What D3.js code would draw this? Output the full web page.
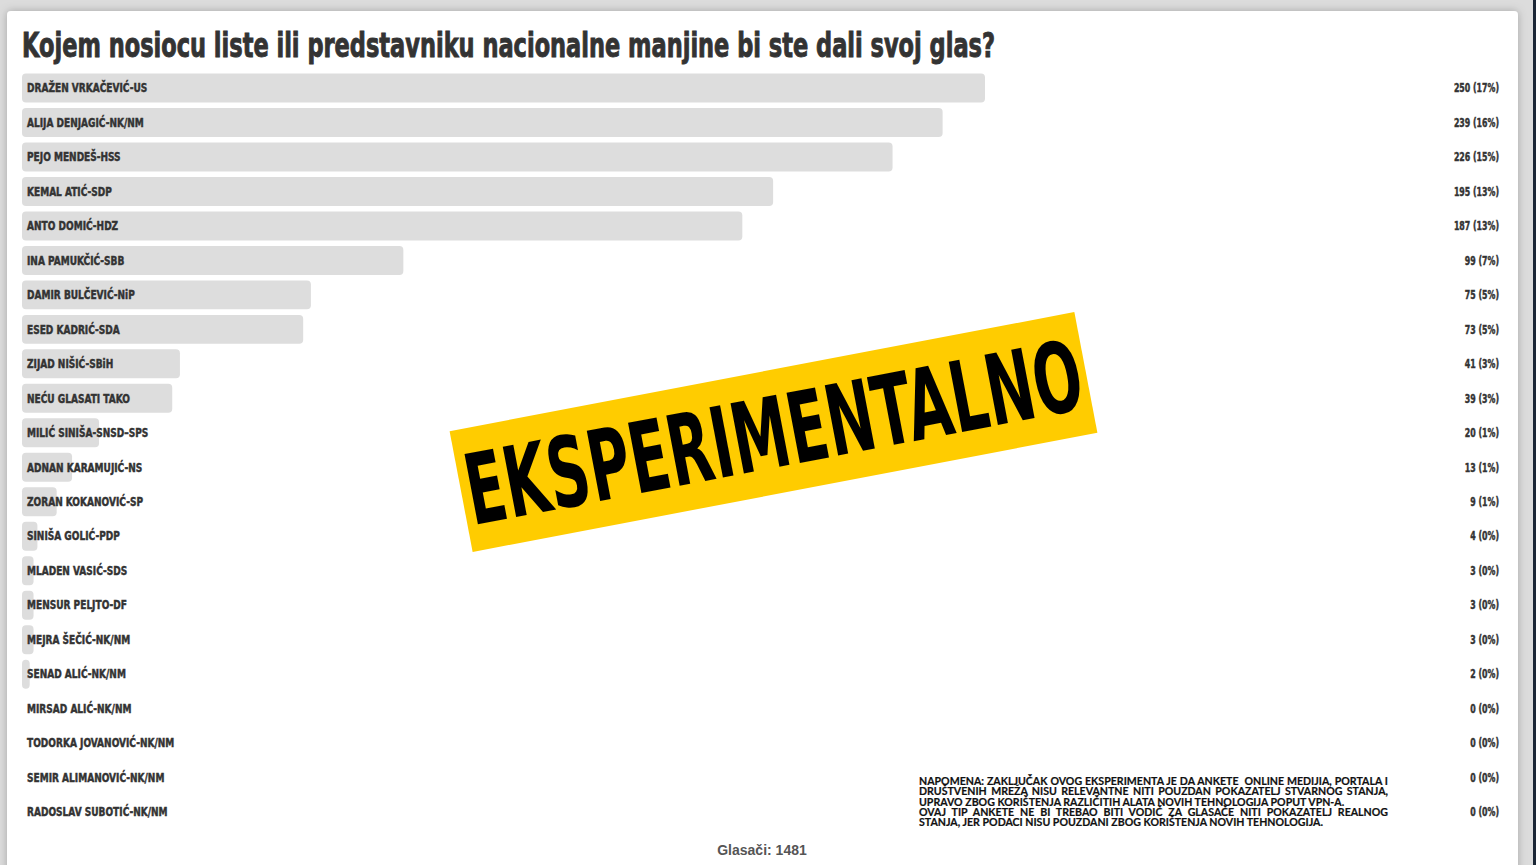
<!DOCTYPE html>
<html><head><meta charset="utf-8">
<script src="https://cdn.jsdelivr.net/npm/d3@7"></script>
<style>
html,body{margin:0;padding:0;background:#dcdcdc;overflow:hidden}
svg{display:block}
</style></head>
<body>
<svg id="c" width="1536" height="865"></svg>
<script>
const title = "Kojem nosiocu liste ili predstavniku nacionalne manjine bi ste dali svoj glas?";
const names = ["DRAŽEN VRKAČEVIĆ-US","ALIJA DENJAGIĆ-NK/NM","PEJO MENDEŠ-HSS","KEMAL ATIĆ-SDP","ANTO DOMIĆ-HDZ","INA PAMUKČIĆ-SBB","DAMIR BULČEVIĆ-NiP","ESED KADRIĆ-SDA","ZIJAD NIŠIĆ-SBiH","NEĆU GLASATI TAKO","MILIĆ SINIŠA-SNSD–SPS","ADNAN KARAMUJIĆ-NS","ZORAN KOKANOVIĆ-SP","SINIŠA GOLIĆ-PDP","MLADEN VASIĆ-SDS","MENSUR PELJTO-DF","MEJRA ŠEČIĆ-NK/NM","SENAD ALIĆ-NK/NM","MIRSAD ALIĆ-NK/NM","TODORKA JOVANOVIĆ-NK/NM","SEMIR ALIMANOVIĆ-NK/NM","RADOSLAV SUBOTIĆ-NK/NM"];
const votes = [250,239,226,195,187,99,75,73,41,39,20,13,9,4,3,3,3,2,0,0,0,0];
const percents = [17,16,15,13,13,7,5,5,3,3,1,1,1,0,0,0,0,0,0,0,0,0];
const totalVoters = 1481;
const stampText = "EKSPERIMENTALNO";
const noteLines = [
 "NAPOMENA: ZAKLJUČAK OVOG EKSPERIMENTA JE DA ANKETE  ONLINE MEDIJIA, PORTALA I",
 "DRUŠTVENIH MREŽA NISU RELEVANTNE NITI POUZDAN POKAZATELJ STVARNOG STANJA,",
 "UPRAVO ZBOG KORIŠTENJA RAZLIČITIH ALATA NOVIH TEHNOLOGIJA POPUT VPN-A.",
 "OVAJ TIP ANKETE NE BI TREBAO BITI VODIČ ZA GLASAČE NITI POKAZATELJ REALNOG",
 "STANJA, JER PODACI NISU POUZDANI ZBOG KORIŠTENJA NOVIH TEHNOLOGIJA."
];
const noteJustify = [true,true,false,true,false];

const svg = d3.select("#c");
const condensed = "'Liberation Sans Narrow','DejaVu Sans Condensed','Arial Narrow',sans-serif";

// page frame
const defs = svg.append("defs");
const f = defs.append("filter").attr("id","sh").attr("x","-5%").attr("y","-5%").attr("width","110%").attr("height","110%");
f.append("feDropShadow").attr("dx",0).attr("dy",0).attr("stdDeviation",4).attr("flood-color","#000").attr("flood-opacity",0.25);
svg.append("rect").attr("x",0).attr("y",0).attr("width",1536).attr("height",865).attr("fill","#dcdcdc");
svg.append("rect").attr("x",1533).attr("y",0).attr("width",3).attr("height",865).attr("fill","#1b2736");
svg.append("rect").attr("x",7).attr("y",11).attr("width",1511).attr("height",880).attr("rx",4)
  .attr("fill","#fff").attr("filter","url(#sh)");

// title
svg.append("text").attr("x",22).attr("y",57).text(title)
  .attr("font-family",condensed).attr("font-weight","bold").attr("font-size",33)
  .attr("fill","#333").attr("stroke","#333").attr("stroke-width",0.9)
  .attr("textLength",973).attr("lengthAdjust","spacingAndGlyphs");

// scales
const step = 34.48;
const y0 = 88 - step/2;
const y = d3.scaleBand().domain(names).range([y0, y0 + step*names.length]).paddingInner(0.16).paddingOuter(0.08);
const x = d3.scaleLinear().domain([0, 250]).range([22, 985]);

const rows = svg.append("g").selectAll("g").data(names).join("g");
rows.filter((d,i)=>votes[i]>0).append("rect")
  .attr("x", x(0)).attr("y", d=>y(d))
  .attr("width", d=>x(votes[names.indexOf(d)]) - x(0))
  .attr("height", y.bandwidth()).attr("rx",4).attr("fill","#dddddd");

function squeeze(sel, factor){
  sel.each(function(){
    const w = this.getComputedTextLength();
    d3.select(this).attr("textLength", w*factor).attr("lengthAdjust","spacingAndGlyphs");
  });
}

const lab = rows.append("text").attr("x",27).attr("y",d=>y(d)+y.bandwidth()/2).attr("dy","0.36em")
  .text(d=>d).attr("font-family",condensed).attr("font-weight","bold").attr("font-size",11.8)
  .attr("fill","#333").attr("stroke","#333").attr("stroke-width",0.45);
squeeze(lab, 0.85);

const val = rows.append("text").attr("x",1499).attr("text-anchor","end").attr("y",d=>y(d)+y.bandwidth()/2).attr("dy","0.36em")
  .text((d,i)=>votes[i]+" ("+percents[i]+"%)").attr("font-family",condensed).attr("font-weight","bold").attr("font-size",11.8)
  .attr("fill","#333").attr("stroke","#333").attr("stroke-width",0.45);
squeeze(val, 0.74);

// note
const note = svg.append("g");
noteLines.forEach((ln,i)=>{
  const t = note.append("text").attr("x",919).attr("y",785 + i*10.3)
    .attr("font-family","Lato,'Open Sans',sans-serif").attr("font-weight","bold").attr("font-size",10.6)
    .attr("fill","#111").attr("stroke","#111").attr("stroke-width",0.2).style("white-space","pre").text(ln);
  if (noteJustify[i]) {
    const w = t.node().getComputedTextLength();
    const spaces = (ln.match(/ /g)||[]).length;
    t.attr("word-spacing", (469 - w)/spaces);
  }
});

// voters total
svg.append("text").attr("x",762).attr("y",855).attr("text-anchor","middle")
  .text("Glasači: " + totalVoters).attr("font-family","'Liberation Sans',Arial,sans-serif")
  .attr("font-weight","bold").attr("font-size",14).attr("fill","#555");

// stamp
const st = svg.append("g").attr("transform","translate(773.5,432) rotate(-10.8)");
st.append("rect").attr("x",-318).attr("y",-61.5).attr("width",636).attr("height",123).attr("fill","#ffcc00");
st.append("text").attr("x",0).attr("y",0).attr("dy","0.36em").attr("text-anchor","middle")
  .text(stampText).attr("font-family",condensed).attr("font-weight","bold").attr("font-size",98)
  .attr("fill","#000").attr("textLength",626).attr("lengthAdjust","spacingAndGlyphs");
</script>
</body></html>
